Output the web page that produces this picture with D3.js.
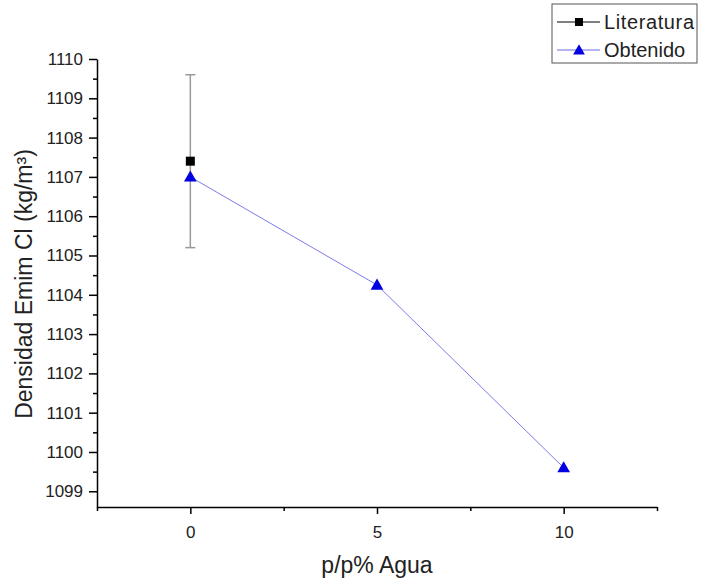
<!DOCTYPE html>
<html>
<head>
<meta charset="utf-8">
<script src="https://cdn.jsdelivr.net/npm/d3@7"></script>
<style>
  body { margin: 0; background: #fff; }
  text { font-family: "Liberation Sans", Arial, sans-serif; }
</style>
</head>
<body>
<svg id="chart" width="702" height="578"></svg>
<script>
// data
const litX = [0];
const litY = [1107.4];
const litErr = [2.2];

const obtX = [0, 5, 10];
const obtY = [1107.0, 1104.25, 1099.6];

const xTickLabels = [0, 5, 10];
const yTickLabels = [1099, 1100, 1101, 1102, 1103, 1104, 1105, 1106, 1107, 1108, 1109, 1110];

const svg = d3.select("#chart");
const margin = { left: 97, right: 45, top: 59, bottom: 71 };
const width = 702, height = 578;

const x = d3.scaleLinear().domain([-2.5, 12.5]).range([margin.left, width - margin.right]);
const y = d3.scaleLinear().domain([1098.6, 1110]).range([height - margin.bottom, margin.top]);

// axes
const xMinor = d3.range(-2.5, 12.51, 2.5);
const xAxis = d3.axisBottom(x).tickValues(xMinor)
    .tickFormat(d => xTickLabels.includes(d) ? d : "")
    .tickSizeOuter(0);
const gx = svg.append("g")
    .attr("transform", `translate(0,${y.range()[0]})`)
    .call(xAxis);
gx.select(".domain").attr("stroke", "#000").attr("stroke-width", 1.5);
gx.selectAll(".tick line").attr("stroke", "#000").attr("stroke-width", 1.5)
    .attr("y2", d => xTickLabels.includes(d) ? 7 : 4);
gx.selectAll(".tick text")
    .attr("font-size", 17).attr("fill", "#222")
    .attr("y", 31).attr("dy", null);

const yMinor = d3.range(1099, 1110.01, 0.5);
const yAxis = d3.axisLeft(y).tickValues(yMinor)
    .tickFormat(d => yTickLabels.includes(d) ? d : "")
    .tickSizeOuter(0);
const gy = svg.append("g")
    .attr("transform", `translate(${x.range()[0]},0)`)
    .call(yAxis);
gy.select(".domain").attr("stroke", "#000").attr("stroke-width", 1.5);
gy.selectAll(".tick line")
    .attr("stroke", "#000").attr("stroke-width", 1.5)
    .attr("x2", d => yTickLabels.includes(d) ? -8 : -4);
gy.selectAll(".tick text").attr("font-size", 17).attr("fill", "#222").attr("x", -14);

// axis titles
svg.append("text")
    .attr("x", x(5)).attr("y", 573)
    .attr("text-anchor", "middle")
    .attr("font-size", 23).attr("fill", "#222")
    .text("p/p% Agua");

svg.append("text")
    .attr("transform", `translate(32,284) rotate(-90)`)
    .attr("text-anchor", "middle")
    .attr("font-size", 23).attr("fill", "#222")
    .text("Densidad Emim Cl (kg/m³)");

// Obtenido line
const line = d3.line().x(d => x(d[0])).y(d => y(d[1]));
const obtPts = obtX.map((d, i) => [d, obtY[i]]);
svg.append("path")
    .datum(obtPts)
    .attr("d", line)
    .attr("fill", "none")
    .attr("stroke", "#5a5ae6")
    .attr("stroke-width", 1)
    .attr("stroke-opacity", 0.8);

// Literatura error bars
litX.forEach((d, i) => {
  const g = svg.append("g").attr("stroke", "#999").attr("stroke-width", 1.5);
  g.append("line")
      .attr("x1", x(d)).attr("x2", x(d))
      .attr("y1", y(litY[i] - litErr[i])).attr("y2", y(litY[i] + litErr[i]));
  [litY[i] - litErr[i], litY[i] + litErr[i]].forEach(v => {
    g.append("line")
        .attr("x1", x(d) - 5).attr("x2", x(d) + 5)
        .attr("y1", y(v)).attr("y2", y(v));
  });
});

// Literatura markers
svg.selectAll(".lit")
    .data(litX)
    .enter().append("rect")
    .attr("x", (d) => x(d) - 4.5)
    .attr("y", (d, i) => y(litY[i]) - 4.5)
    .attr("width", 9).attr("height", 9)
    .attr("fill", "#000");

// Obtenido markers
const tri = d3.symbol().type(d3.symbolTriangle).size(70);
svg.selectAll(".obt")
    .data(obtPts)
    .enter().append("path")
    .attr("d", tri)
    .attr("transform", d => `translate(${x(d[0])},${y(d[1]) + 1})`)
    .attr("fill", "#0000e0");

// legend
const lg = svg.append("g").attr("transform", "translate(552,4)");
lg.append("rect")
    .attr("width", 145).attr("height", 59)
    .attr("fill", "#fff").attr("stroke", "#555").attr("stroke-width", 1);
const legendItems = [
  { name: "Literatura", color: "#000", stroke: "#000", shape: "square" },
  { name: "Obtenido", color: "#0000e0", stroke: "#6a6ae6", shape: "triangle" }
];
legendItems.forEach((it, i) => {
  const yy = 18 + i * 28;
  lg.append("line")
      .attr("x1", 5).attr("x2", 48).attr("y1", yy).attr("y2", yy)
      .attr("stroke", it.stroke).attr("stroke-width", 1);
  if (it.shape === "square") {
    lg.append("rect").attr("x", 23).attr("y", yy - 4).attr("width", 8).attr("height", 8).attr("fill", it.color);
  } else {
    lg.append("path").attr("d", d3.symbol().type(d3.symbolTriangle).size(60))
        .attr("transform", `translate(27,${yy + 1})`).attr("fill", it.color);
  }
  lg.append("text")
      .attr("x", 52).attr("y", yy + 7)
      .attr("font-size", 20).attr("fill", "#222")
      .attr("textLength", it.name === "Literatura" ? 90 : null)
      .text(it.name);
});
</script>
</body>
</html>
